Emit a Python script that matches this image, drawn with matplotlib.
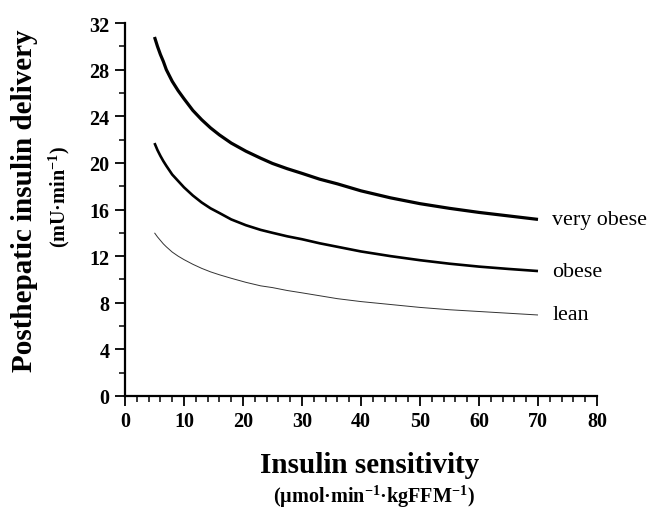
import matplotlib
matplotlib.use("Agg")
import matplotlib.pyplot as plt
from matplotlib.ticker import MultipleLocator

plt.rcParams['font.family'] = ['Liberation Serif', 'DejaVu Serif']
plt.rcParams['mathtext.fontset'] = 'custom'
plt.rcParams['mathtext.rm'] = 'Liberation Serif:bold'
plt.rcParams['mathtext.bf'] = 'Liberation Serif:bold'
plt.rcParams['mathtext.default'] = 'bf'

# values
sensitivity = [5, 5.5, 6, 6.5, 7, 8, 9, 10, 11.5, 13, 14.5, 16, 18, 20.5, 23, 25,
               27.5, 30, 33, 36, 40, 45, 50, 55, 60, 65, 70]
very_obese = [30.8, 30.0, 29.3, 28.7, 28.0, 27.0, 26.2, 25.5, 24.5, 23.7, 23.0, 22.4,
              21.7, 21.0, 20.4, 19.95, 19.5, 19.1, 18.6, 18.2, 17.6, 17.0, 16.5, 16.1,
              15.75, 15.45, 15.15]
obese = [21.7, 21.1, 20.6, 20.15, 19.75, 19.0, 18.45, 17.9, 17.2, 16.6, 16.1, 15.7,
         15.15, 14.65, 14.25, 14.0, 13.7, 13.45, 13.1, 12.8, 12.4, 12.0, 11.65, 11.35,
         11.1, 10.9, 10.72]
lean = [14.0, 13.65, 13.35, 13.05, 12.8, 12.35, 12.0, 11.7, 11.3, 10.95, 10.65, 10.4,
        10.1, 9.75, 9.45, 9.3, 9.05, 8.85, 8.6, 8.35, 8.1, 7.85, 7.6, 7.4, 7.25, 7.1, 6.95]
curve_names = ['very obese', 'obese', 'lean']

fig = plt.figure(figsize=(6.5, 5.1), dpi=100)
ax = fig.add_axes([125 / 650, 1 - 397 / 510, 472 / 650, 373 / 510])

ax.plot(sensitivity, very_obese, color='black', lw=2.3, solid_capstyle='butt')
ax.plot(sensitivity, obese, color='black', lw=1.9, solid_capstyle='butt')
ax.plot(sensitivity, lean, color='#333333', lw=0.7, solid_capstyle='butt')

for name, ys in zip(curve_names, [very_obese, obese, lean]):
    ax.text(72.4, ys[-1], name, fontsize=15.8, va='center', ha='left')

ax.set_xlim(0, 80)
ax.set_ylim(0, 32)
ax.xaxis.set_major_locator(MultipleLocator(10))
ax.xaxis.set_minor_locator(MultipleLocator(2))
ax.yaxis.set_major_locator(MultipleLocator(4))
ax.yaxis.set_minor_locator(MultipleLocator(2))

for side in ['top', 'right']:
    ax.spines[side].set_visible(False)
for side in ['left', 'bottom']:
    ax.spines[side].set_linewidth(1.6)

ax.tick_params(which='major', length=7, width=1.3, labelsize=14.5, pad=4)
ax.tick_params(which='minor', length=4, width=1.1)
for lab in ax.get_xticklabels() + ax.get_yticklabels():
    lab.set_fontweight('bold')

# axis titles
fig.text(25 / 650, 1 - 201 / 510, 'Posthepatic insulin delivery', rotation=90,
         ha='center', va='center', fontsize=21, fontweight='bold')
fig.text(59 / 650, 1 - 197 / 510, '(mU·min$^{-1}$)', rotation=90,
         ha='center', va='center', fontsize=14.5, fontweight='bold')
fig.text(370 / 650, 1 - 466 / 510, 'Insulin sensitivity',
         ha='center', va='center', fontsize=21, fontweight='bold')
fig.text(374 / 650, 1 - 497 / 510, '(µmol·min$^{-1}$·kgFFM$^{-1}$)',
         ha='center', va='center', fontsize=14.5, fontweight='bold')

fig.savefig('out.png', dpi=100)
